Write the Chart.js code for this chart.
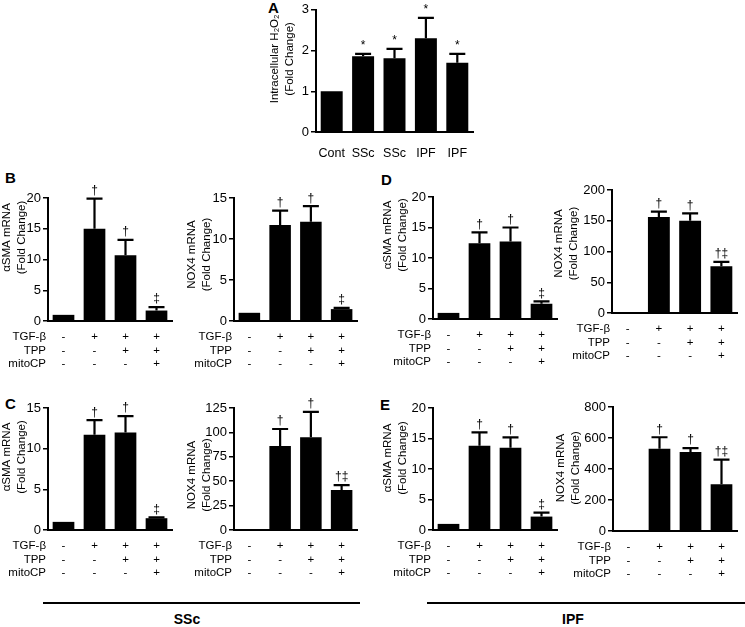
<!DOCTYPE html>
<html lang="en">
<head>
  <meta charset="UTF-8">
  <title>Intracellular H2O2 and TGF-β responses - SSc / IPF</title>
  <script src="https://cdn.jsdelivr.net/npm/chart.js@4.4.1/dist/chart.umd.min.js"></script>
  <style>
    body {
      margin: 0;
      width: 745px;
      height: 627px;
      position: relative;
      overflow: hidden;
      background: #fff;
      font-family: 'Liberation Sans', Arial, Helvetica, sans-serif;
      color: #000;
    }
    canvas.panel { position: absolute; }
    .letter {
      position: absolute;
      font-weight: bold;
      font-size: 15px;
      line-height: 1;
    }
    .group-line {
      position: absolute;
      height: 2px;
      background: #000;
    }
    .group-name {
      position: absolute;
      font-weight: bold;
      font-size: 14px;
      line-height: 1;
      transform: translateX(-50%);
    }
  </style>
</head>
<body>
  <!-- panel letters -->
  <div class="letter" style="left:268px; top:0px;">A</div>
  <div class="letter" style="left:5px; top:170px;">B</div>
  <div class="letter" style="left:381px; top:172px;">D</div>
  <div class="letter" style="left:5px; top:396px;">C</div>
  <div class="letter" style="left:380px; top:397px;">E</div>

  <!-- group bars at the bottom -->
  <div class="group-line" style="left:43px; width:317px; top:602px;"></div>
  <div class="group-name" style="left:187px; top:612px;">SSc</div>
  <div class="group-line" style="left:427px; width:318px; top:602px;"></div>
  <div class="group-name" style="left:573px; top:612px;">IPF</div>

  <script>
    // Panel A: intracellular H2O2
    const h2o2Labels = ['Cont', 'SSc', 'SSc', 'IPF', 'IPF'];
    const h2o2Mean = [1.0, 1.86, 1.81, 2.3, 1.7];
    const h2o2Err = [0, 0.06, 0.23, 0.5, 0.22];
    const h2o2Marks = ['', '*', '*', '*', '*'];

    // treatment table under panels B-E
    const treatNames = ['TGF-β', 'TPP', 'mitoCP'];
    const tgfRow = ['-', '+', '+', '+'];
    const tppRow = ['-', '-', '+', '+'];
    const mitoRow = ['-', '-', '-', '+'];
    const groupLabels = ['Control', 'TGF-β', 'TGF-β+TPP', 'TGF-β+TPP+mitoCP'];

    // B (SSc)
    const bSmaMean = [1.0, 15.0, 10.7, 1.7];
    const bSmaErr = [0, 4.9, 2.5, 0.55];
    const bNoxMean = [1.0, 11.7, 12.1, 1.45];
    const bNoxErr = [0, 1.75, 1.9, 0.15];
    // C (SSc)
    const cSmaMean = [1.0, 11.7, 12.0, 1.45];
    const cSmaErr = [0, 1.8, 2.0, 0.1];
    const cNoxMean = [1.0, 86, 95, 41];
    const cNoxErr = [0, 17.5, 26, 5];
    // D (IPF)
    const dSmaMean = [1.0, 12.4, 12.7, 2.5];
    const dSmaErr = [0, 1.8, 2.3, 0.4];
    const dNoxMean = [1.0, 156, 150, 76];
    const dNoxErr = [0, 9, 12, 7];
    // E (IPF)
    const eSmaMean = [1.0, 13.8, 13.5, 2.2];
    const eSmaErr = [0, 2.2, 1.7, 0.65];
    const eNoxMean = [1.0, 530, 510, 302];
    const eNoxErr = [0, 75, 25, 158];

    const marksSingle = ['', '†', '†', '‡'];
    const marksDouble = ['', '†', '†', '†‡'];

    const smaTitle = ['αSMA mRNA', '(Fold Change)'];
    const noxTitle = ['NOX4 mRNA', '(Fold Change)'];
    const h2o2Title = ['Intracellular H₂O₂', '(Fold Change)'];

    const FONT = '"Liberation Sans", Arial, Helvetica, sans-serif';
    Chart.defaults.font.family = FONT;
    Chart.defaults.color = '#000';

    // error bars (upper only) + significance marks
    const errorBars = {
      id: 'errorBars',
      afterDatasetsDraw(chart, args, opts) {
        const { ctx } = chart;
        const y = chart.scales.y;
        const vals = chart.data.datasets[0].data;
        ctx.save();
        ctx.strokeStyle = '#000';
        ctx.fillStyle = '#000';
        ctx.lineWidth = 2.2;
        ctx.font = '12px ' + FONT;
        ctx.textAlign = 'center';
        ctx.textBaseline = 'bottom';
        chart.getDatasetMeta(0).data.forEach((bar, i) => {
          const e = opts.err[i] || 0;
          const top = y.getPixelForValue(vals[i] + e);
          if (e > 0) {
            ctx.beginPath();
            ctx.moveTo(bar.x, bar.y);
            ctx.lineTo(bar.x, top);
            ctx.moveTo(bar.x - 8, top);
            ctx.lineTo(bar.x + 8, top);
            ctx.stroke();
          }
          if (opts.marks[i]) ctx.fillText(opts.marks[i], bar.x, top - 2);
        });
        ctx.restore();
      }
    };

    // +/- table under the x axis
    const treatTable = {
      id: 'treatTable',
      afterDraw(chart, args, opts) {
        if (!opts.rows) return;
        const { ctx, chartArea } = chart;
        const x = chart.scales.x;
        ctx.save();
        ctx.fillStyle = '#000';
        ctx.font = '11.5px ' + FONT;
        ctx.textBaseline = 'middle';
        opts.rows.forEach((row, r) => {
          const yy = chartArea.bottom + 16 + r * 13.5;
          ctx.textAlign = 'right';
          ctx.fillText(opts.names[r], chartArea.left - 2, yy);
          ctx.textAlign = 'center';
          row.forEach((s, i) => ctx.fillText(s, x.getPixelForValue(i), yy));
        });
        ctx.restore();
      }
    };

    // rotated two-line y title
    const yTitle = {
      id: 'yTitle',
      afterDraw(chart, args, opts) {
        const { ctx, chartArea } = chart;
        const cy = (chartArea.top + chartArea.bottom) / 2 + (opts.shift || 0);
        ctx.save();
        ctx.fillStyle = '#000';
        ctx.font = '11.5px ' + FONT;
        ctx.textAlign = 'center';
        ctx.textBaseline = 'middle';
        ctx.translate(7, cy);
        ctx.rotate(-Math.PI / 2);
        opts.lines.forEach((t, k) => ctx.fillText(t, 0, k * 14.5));
        ctx.restore();
      }
    };

    function barPanel(p) {
      const canvas = document.createElement('canvas');
      canvas.className = 'panel';
      canvas.width = p.yW + (p.right - p.left) + 6;
      canvas.height = p.padTop + (p.bottom - p.top) + p.xH;
      canvas.style.left = (p.left - p.yW) + 'px';
      canvas.style.top = (p.top - p.padTop) + 'px';
      document.body.appendChild(canvas);

      new Chart(canvas, {
        type: 'bar',
        data: {
          labels: p.labels,
          datasets: [{
            data: p.mean,
            backgroundColor: '#000',
            barPercentage: 0.7,
            categoryPercentage: 1
          }]
        },
        options: {
          responsive: false,
          animation: false,
          devicePixelRatio: 1,
          layout: { padding: { top: p.padTop, right: 6, bottom: 0, left: 0 } },
          plugins: {
            legend: { display: false },
            tooltip: { enabled: false },
            errorBars: { err: p.err, marks: p.marks },
            treatTable: p.table ? { rows: [tgfRow, tppRow, mitoRow], names: treatNames } : {},
            yTitle: { lines: p.title, shift: p.shift }
          },
          scales: {
            x: {
              grid: { display: false },
              border: { color: '#000', width: 2 },
              ticks: {
                display: !p.table, color: '#000', font: { size: 12.5 }, padding: 6,
                maxRotation: 0, minRotation: 0, autoSkip: false
              },
              afterFit: s => { s.height = p.xH; }
            },
            y: {
              min: 0,
              max: p.max,
              ticks: { stepSize: p.step, color: '#000', font: { size: 13 }, padding: 2 },
              grid: { drawOnChartArea: false, drawTicks: true, tickLength: 5, color: '#000', lineWidth: 1.5 },
              border: { color: '#000', width: 2 },
              afterFit: s => { s.width = p.yW; }
            }
          }
        },
        plugins: [errorBars, treatTable, yTitle]
      });
    }

    // A
    barPanel({ left: 316, right: 473, top: 8, bottom: 132, yW: 48, padTop: 8, xH: 25,
      max: 3, step: 1, labels: h2o2Labels, mean: h2o2Mean, err: h2o2Err, marks: h2o2Marks,
      table: false, title: h2o2Title, shift: -12 });

    // B
    barPanel({ left: 48, right: 172, top: 198, bottom: 321, yW: 48, padTop: 24, xH: 50,
      max: 20, step: 5, labels: groupLabels, mean: bSmaMean, err: bSmaErr, marks: marksSingle,
      table: true, title: smaTitle, shift: -22 });
    barPanel({ left: 234, right: 357, top: 198, bottom: 321, yW: 49, padTop: 24, xH: 50,
      max: 15, step: 5, labels: groupLabels, mean: bNoxMean, err: bNoxErr, marks: marksSingle,
      table: true, title: noxTitle, shift: -5 });

    // D
    barPanel({ left: 433, right: 557, top: 197, bottom: 319, yW: 52, padTop: 24, xH: 50,
      max: 20, step: 5, labels: groupLabels, mean: dSmaMean, err: dSmaErr, marks: marksSingle,
      table: true, title: smaTitle, shift: -23 });
    barPanel({ left: 612, right: 737, top: 190, bottom: 313, yW: 60, padTop: 24, xH: 50,
      max: 200, step: 50, labels: groupLabels, mean: dNoxMean, err: dNoxErr, marks: marksDouble,
      table: true, title: noxTitle, shift: -8 });

    // C
    barPanel({ left: 48, right: 172, top: 408, bottom: 530, yW: 48, padTop: 24, xH: 50,
      max: 15, step: 5, labels: groupLabels, mean: cSmaMean, err: cSmaErr, marks: marksSingle,
      table: true, title: smaTitle, shift: -12 });
    barPanel({ left: 234, right: 357, top: 408, bottom: 530, yW: 49, padTop: 24, xH: 50,
      max: 125, step: 25, labels: groupLabels, mean: cNoxMean, err: cNoxErr, marks: marksDouble,
      table: true, title: noxTitle, shift: 6 });

    // E
    barPanel({ left: 433, right: 557, top: 408, bottom: 530, yW: 52, padTop: 24, xH: 50,
      max: 20, step: 5, labels: groupLabels, mean: eSmaMean, err: eSmaErr, marks: marksSingle,
      table: true, title: smaTitle, shift: -11 });
    barPanel({ left: 613, right: 737, top: 407, bottom: 531, yW: 59, padTop: 24, xH: 50,
      max: 800, step: 200, labels: groupLabels, mean: eNoxMean, err: eNoxErr, marks: marksDouble,
      table: true, title: noxTitle, shift: -1 });
  </script>
</body>
</html>
